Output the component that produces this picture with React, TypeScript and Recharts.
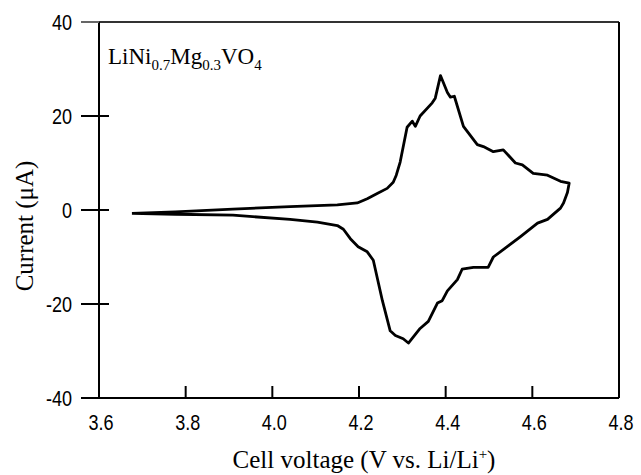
import React from "react";
import { LineChart, Line, XAxis, YAxis, ReferenceLine } from "recharts";

// Cyclic voltammogram, LiNi0.7Mg0.3VO4 cathode
const voltage = [
  3.676, 3.776, 3.909, 4.041, 4.15, 4.196, 4.219, 4.242, 4.265, 4.279,
  4.286, 4.295, 4.311, 4.323, 4.33, 4.341, 4.369, 4.376, 4.388, 4.404,
  4.411, 4.42, 4.441, 4.473, 4.487, 4.51, 4.533, 4.561, 4.577, 4.602,
  4.635, 4.665, 4.685, 4.681, 4.672, 4.665, 4.635, 4.612, 4.572, 4.542,
  4.51, 4.498, 4.464, 4.438, 4.427, 4.404, 4.392, 4.381, 4.36, 4.341,
  4.314, 4.302, 4.284, 4.272, 4.254, 4.233, 4.219, 4.198, 4.18, 4.164,
  4.15, 4.104, 4.041, 3.909, 3.776, 3.676,
];
const current = [
  -0.7, -0.4, 0.2, 0.7, 1.1, 1.5, 2.4, 3.5, 4.6, 5.9,
  7.4, 10.2, 17.6, 18.9, 17.8, 20.0, 22.8, 23.8, 28.6, 25.0,
  24.0, 24.2, 17.8, 13.9, 13.5, 12.4, 12.8, 10.0, 9.6, 7.8,
  7.4, 6.1, 5.7, 3.7, 1.5, 0.4, -2.0, -2.8, -5.7, -7.8,
  -10.0, -12.2, -12.2, -12.6, -14.8, -17.2, -19.3, -19.8, -23.7, -25.2,
  -28.3, -27.4, -26.7, -25.7, -19.3, -10.7, -8.9, -7.8, -6.1, -4.1,
  -3.3, -2.6, -2.0, -1.1, -0.9, -0.7,
];
const xTicks = [3.6, 3.8, 4.0, 4.2, 4.4, 4.6, 4.8];
const yTicks = [-40, -20, 0, 20, 40];

const data = voltage.map((v, i) => ({ v, i: current[i] }));

const serif = "'Liberation Serif', 'Times New Roman', serif";
const sans = "'Liberation Sans', Arial, sans-serif";

// narrow-looking tick numbers
const TickText = ({ x, y, anchor, children }: any) => (
  <g transform={`translate(${x},${y}) scale(0.82,1)`}>
    <text x={0} y={0} dy="0.36em" textAnchor={anchor} fontFamily={sans} fontSize={22} fill="#000">
      {children}
    </text>
  </g>
);

const YTick = (props: any) => {
  const { x, y, payload } = props;
  const edge = payload.value === 40 || payload.value === -40;
  return (
    <g>
      <line
        x1={x - 18}
        x2={edge ? x : x + 10}
        y1={y}
        y2={y}
        stroke={payload.value === 40 ? "#666" : "#000"}
        strokeWidth={2}
      />
      <TickText x={x - 27} y={y} anchor="end">
        {payload.value}
      </TickText>
    </g>
  );
};

const XTick = (props: any) => {
  const { x, y, payload } = props;
  return (
    <TickText x={x + 2} y={y + 24} anchor="middle">
      {Number(payload.value).toFixed(1)}
    </TickText>
  );
};

export default function App() {
  return (
    <div style={{ position: "absolute", left: 0, top: 0, width: 641, height: 475, background: "#fff" }}>
      <LineChart
        width={641}
        height={475}
        data={data}
        margin={{ top: 22, right: 22, bottom: 47, left: 19 }}
      >
        <XAxis
          type="number"
          dataKey="v"
          domain={[3.6, 4.8]}
          ticks={xTicks}
          allowDataOverflow
          height={30}
          tickSize={-12}
          tickMargin={12}
          axisLine={{ stroke: "#000", strokeWidth: 2 }}
          tickLine={{ stroke: "#000", strokeWidth: 2 }}
          tick={<XTick />}
        />
        <YAxis
          type="number"
          domain={[-40, 40]}
          ticks={yTicks}
          allowDataOverflow
          width={80}
          tickSize={0}
          tickMargin={0}
          tickLine={false}
          axisLine={{ stroke: "#000", strokeWidth: 2 }}
          tick={<YTick />}
        />
        <ReferenceLine y={40} stroke="#333" strokeWidth={2} />
        <ReferenceLine x={4.8} stroke="#000" strokeWidth={2} />
        <Line
          type="linear"
          dataKey="i"
          stroke="#000"
          strokeWidth={2.8}
          dot={false}
          strokeLinejoin="round"
          isAnimationActive={false}
        />
      </LineChart>
      <div
        style={{
          position: "absolute",
          left: 108,
          top: 44,
          fontFamily: serif,
          fontSize: 23,
          color: "#000",
          whiteSpace: "nowrap",
        }}
      >
        LiNi<sub style={{ fontSize: 15 }}>0.7</sub>Mg<sub style={{ fontSize: 15 }}>0.3</sub>VO
        <sub style={{ fontSize: 15 }}>4</sub>
      </div>
      <div
        style={{
          position: "absolute",
          left: 25,
          top: 226,
          transform: "translate(-50%, -50%) rotate(-90deg)",
          fontFamily: serif,
          fontSize: 25,
          whiteSpace: "nowrap",
          color: "#000",
        }}
      >
        Current (μA)
      </div>
      <div
        style={{
          position: "absolute",
          left: 364,
          top: 460,
          transform: "translate(-50%, -50%)",
          fontFamily: serif,
          fontSize: 25,
          whiteSpace: "nowrap",
          color: "#000",
        }}
      >
        Cell voltage (V vs. Li/Li<sup style={{ fontSize: 15 }}>+</sup>)
      </div>
    </div>
  );
}
